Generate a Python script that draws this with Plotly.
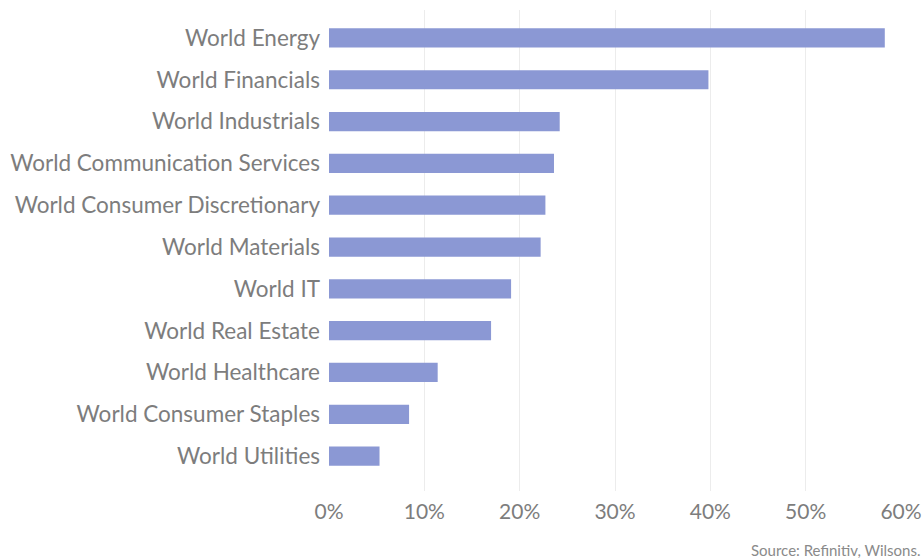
import plotly.graph_objects as go

categories = [
    "World Energy",
    "World Financials",
    "World Industrials",
    "World Communication Services",
    "World Consumer Discretionary",
    "World Materials",
    "World IT",
    "World Real Estate",
    "World Healthcare",
    "World Consumer Staples",
    "World Utilities",
]
values = [58.3, 39.8, 24.2, 23.6, 22.7, 22.2, 19.1, 17.0, 11.4, 8.4, 5.3]
tick_vals = [0, 10, 20, 30, 40, 50, 60]
tick_text = ["0%", "10%", "20%", "30%", "40%", "50%", "60%"]
source_text = "Source: Refinitiv, Wilsons."

fig = go.Figure(
    go.Bar(
        x=values,
        y=list(range(len(categories))),
        orientation="h",
        marker=dict(color="#8b98d4", line=dict(width=0)),
        width=0.46,
        hoverinfo="x+y",
    )
)

fig.update_layout(
    width=924,
    height=560,
    margin=dict(l=329, r=23, t=10, b=69),
    paper_bgcolor="white",
    plot_bgcolor="white",
    font=dict(family="Lato, Noto Sans, sans-serif", color="#7d7d7d", size=22),
    showlegend=False,
    xaxis=dict(
        range=[0, 60],
        tickvals=tick_vals,
        ticktext=tick_text,
        showgrid=True,
        gridcolor="#ececec",
        gridwidth=1,
        zeroline=False,
        showline=False,
        ticks="",
        tickfont=dict(size=21, color="#7d7d7d"),
        ticklabelstandoff=6,
        ticklabeloverflow="allow",
        automargin=False,
        fixedrange=True,
    ),
    yaxis=dict(
        range=[10.835, -0.668],
        tickvals=list(range(len(categories))),
        ticktext=categories,
        showgrid=False,
        zeroline=False,
        showline=False,
        ticks="",
        tickfont=dict(size=22.5, color="#7d7d7d"),
        ticklabelstandoff=8,
        automargin=False,
        fixedrange=True,
    ),
    annotations=[
        dict(
            text=source_text,
            xref="paper",
            yref="paper",
            x=1.0,
            y=0,
            xshift=21,
            yshift=-48,
            xanchor="right",
            yanchor="top",
            showarrow=False,
            font=dict(size=15, color="#8a8a8a"),
        )
    ],
)

fig.write_html(
    "out.html",
    config={"displayModeBar": False},
    post_script="document.body.style.margin='0';document.body.style.overflow='hidden';",
)
